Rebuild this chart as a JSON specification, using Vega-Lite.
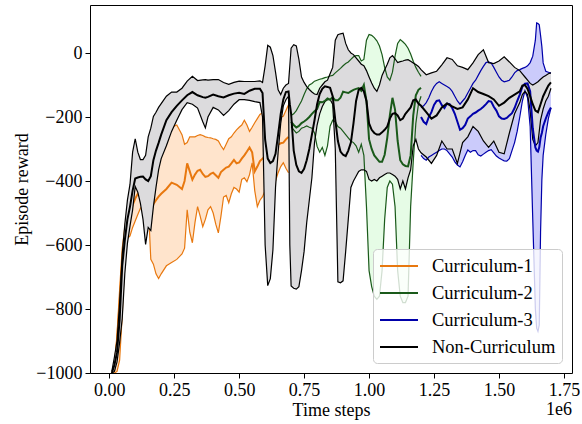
{
"$schema": "https://vega.github.io/schema/vega-lite/v6.json",
"width": 482, "height": 368,
"autosize": {"type": "none"},
"padding": {"left": 90, "top": 5, "right": 10, "bottom": 51},
"title": {"text": "1e6", "orient": "bottom", "anchor": "end", "frame": "group", "offset": -18, "fontSize": 18, "font": "Liberation Serif, Times New Roman, Times, serif", "fontWeight": "normal", "color": "black"},
"config": {
 "font": "Liberation Serif, Times New Roman, Times, serif",
 "view": {"stroke": "black", "strokeWidth": 1},
 "axis": {"labelFontSize": 18, "titleFontSize": 18, "labelColor": "black", "titleColor": "black", "tickColor": "black", "tickSize": 5, "tickWidth": 1, "grid": false, "domain": false, "titleFontWeight": "normal", "labelFont": "Liberation Serif, Times New Roman, Times, serif", "titleFont": "Liberation Serif, Times New Roman, Times, serif", "labelPadding": 3},
 "axisX": {"titlePadding": 2},
 "axisY": {"titlePadding": 4},
 "legend": {"orient": "bottom-right", "offset": 10, "labelFontSize": 18.5, "labelFont": "Liberation Serif, Times New Roman, Times, serif", "labelColor": "black", "symbolType": "M-1.3,0L2.5,0", "symbolStrokeWidth": 2, "symbolSize": 400, "symbolOffset": 3, "fillColor": "rgba(255,255,255,0.8)", "strokeColor": "#cccccc", "cornerRadius": 4, "padding": 6, "rowPadding": 6, "labelOffset": 28}
},
"datasets": {"d": [
{"s":"Curriculum-1","x":0.01,"m":-1000,"lo":-1000,"hi":-1000},
{"s":"Curriculum-1","x":0.02,"m":-990,"lo":-1000,"hi":-975},
{"s":"Curriculum-1","x":0.03,"m":-900,"lo":-995,"hi":-880},
{"s":"Curriculum-1","x":0.04,"m":-780,"lo":-960,"hi":-740},
{"s":"Curriculum-1","x":0.05,"m":-650,"lo":-820,"hi":-610},
{"s":"Curriculum-1","x":0.06,"m":-585,"lo":-640,"hi":-545},
{"s":"Curriculum-1","x":0.07,"m":-540,"lo":-580,"hi":-490},
{"s":"Curriculum-1","x":0.08,"m":-505,"lo":-572,"hi":-462},
{"s":"Curriculum-1","x":0.09,"m":-475,"lo":-545,"hi":-430},
{"s":"Curriculum-1","x":0.10,"m":-455,"lo":-525,"hi":-395},
{"s":"Curriculum-1","x":0.11,"m":-440,"lo":-505,"hi":-370},
{"s":"Curriculum-1","x":0.12,"m":-425,"lo":-485,"hi":-338},
{"s":"Curriculum-1","x":0.13,"m":-415,"lo":-475,"hi":-336},
{"s":"Curriculum-1","x":0.14,"m":-400,"lo":-458,"hi":-338},
{"s":"Curriculum-1","x":0.15,"m":-420,"lo":-470,"hi":-320},
{"s":"Curriculum-1","x":0.16,"m":-470,"lo":-645,"hi":-300},
{"s":"Curriculum-1","x":0.17,"m":-472,"lo":-660,"hi":-290},
{"s":"Curriculum-1","x":0.18,"m":-460,"lo":-690,"hi":-280},
{"s":"Curriculum-1","x":0.19,"m":-449,"lo":-705,"hi":-270},
{"s":"Curriculum-1","x":0.20,"m":-440,"lo":-690,"hi":-262},
{"s":"Curriculum-1","x":0.22,"m":-425,"lo":-665,"hi":-245},
{"s":"Curriculum-1","x":0.24,"m":-405,"lo":-655,"hi":-232},
{"s":"Curriculum-1","x":0.26,"m":-412,"lo":-645,"hi":-225},
{"s":"Curriculum-1","x":0.28,"m":-425,"lo":-628,"hi":-255},
{"s":"Curriculum-1","x":0.29,"m":-400,"lo":-610,"hi":-285},
{"s":"Curriculum-1","x":0.30,"m":-345,"lo":-490,"hi":-280},
{"s":"Curriculum-1","x":0.31,"m":-370,"lo":-560,"hi":-262},
{"s":"Curriculum-1","x":0.32,"m":-396,"lo":-593,"hi":-262},
{"s":"Curriculum-1","x":0.33,"m":-380,"lo":-530,"hi":-262},
{"s":"Curriculum-1","x":0.34,"m":-368,"lo":-480,"hi":-258},
{"s":"Curriculum-1","x":0.35,"m":-365,"lo":-510,"hi":-255},
{"s":"Curriculum-1","x":0.36,"m":-378,"lo":-543,"hi":-258},
{"s":"Curriculum-1","x":0.37,"m":-387,"lo":-520,"hi":-262},
{"s":"Curriculum-1","x":0.38,"m":-385,"lo":-490,"hi":-264},
{"s":"Curriculum-1","x":0.39,"m":-378,"lo":-480,"hi":-265},
{"s":"Curriculum-1","x":0.40,"m":-374,"lo":-500,"hi":-268},
{"s":"Curriculum-1","x":0.41,"m":-382,"lo":-535,"hi":-270},
{"s":"Curriculum-1","x":0.42,"m":-390,"lo":-562,"hi":-275},
{"s":"Curriculum-1","x":0.43,"m":-372,"lo":-510,"hi":-290},
{"s":"Curriculum-1","x":0.44,"m":-365,"lo":-450,"hi":-302},
{"s":"Curriculum-1","x":0.45,"m":-358,"lo":-445,"hi":-285},
{"s":"Curriculum-1","x":0.46,"m":-355,"lo":-468,"hi":-268},
{"s":"Curriculum-1","x":0.47,"m":-345,"lo":-440,"hi":-262},
{"s":"Curriculum-1","x":0.48,"m":-334,"lo":-420,"hi":-250},
{"s":"Curriculum-1","x":0.49,"m":-345,"lo":-425,"hi":-240},
{"s":"Curriculum-1","x":0.50,"m":-342,"lo":-435,"hi":-232},
{"s":"Curriculum-1","x":0.51,"m":-330,"lo":-395,"hi":-225},
{"s":"Curriculum-1","x":0.52,"m":-320,"lo":-390,"hi":-210},
{"s":"Curriculum-1","x":0.53,"m":-308,"lo":-402,"hi":-225},
{"s":"Curriculum-1","x":0.54,"m":-295,"lo":-380,"hi":-245},
{"s":"Curriculum-1","x":0.55,"m":-310,"lo":-343,"hi":-232},
{"s":"Curriculum-1","x":0.56,"m":-370,"lo":-430,"hi":-218},
{"s":"Curriculum-1","x":0.57,"m":-355,"lo":-480,"hi":-205},
{"s":"Curriculum-1","x":0.58,"m":-338,"lo":-460,"hi":-192},
{"s":"Curriculum-1","x":0.59,"m":-330,"lo":-449,"hi":-187},
{"s":"Curriculum-1","x":0.60,"m":-322,"lo":-430,"hi":-215},
{"s":"Curriculum-1","x":0.61,"m":-316,"lo":-440,"hi":-230},
{"s":"Curriculum-1","x":0.62,"m":-305,"lo":-450,"hi":-235},
{"s":"Curriculum-1","x":0.63,"m":-293,"lo":-445,"hi":-225},
{"s":"Curriculum-1","x":0.64,"m":-290,"lo":-400,"hi":-215},
{"s":"Curriculum-1","x":0.65,"m":-286,"lo":-374,"hi":-205},
{"s":"Curriculum-1","x":0.66,"m":-282,"lo":-355,"hi":-200},
{"s":"Curriculum-1","x":0.67,"m":-280,"lo":-343,"hi":-198},
{"s":"Curriculum-1","x":0.68,"m":-270,"lo":-360,"hi":-180},
{"s":"Curriculum-1","x":0.69,"m":-262,"lo":-374,"hi":-162},
{"s":"Curriculum-2","x":0.70,"m":-215,"lo":-230,"hi":-195},
{"s":"Curriculum-2","x":0.71,"m":-225,"lo":-240,"hi":-190},
{"s":"Curriculum-2","x":0.72,"m":-233,"lo":-250,"hi":-180},
{"s":"Curriculum-2","x":0.73,"m":-228,"lo":-245,"hi":-165},
{"s":"Curriculum-2","x":0.74,"m":-219,"lo":-235,"hi":-150},
{"s":"Curriculum-2","x":0.75,"m":-214,"lo":-232,"hi":-130},
{"s":"Curriculum-2","x":0.76,"m":-208,"lo":-228,"hi":-112},
{"s":"Curriculum-2","x":0.77,"m":-200,"lo":-232,"hi":-100},
{"s":"Curriculum-2","x":0.78,"m":-190,"lo":-235,"hi":-95},
{"s":"Curriculum-2","x":0.79,"m":-182,"lo":-250,"hi":-88},
{"s":"Curriculum-2","x":0.80,"m":-175,"lo":-292,"hi":-85},
{"s":"Curriculum-2","x":0.81,"m":-153,"lo":-310,"hi":-82},
{"s":"Curriculum-2","x":0.82,"m":-154,"lo":-295,"hi":-80},
{"s":"Curriculum-2","x":0.83,"m":-150,"lo":-320,"hi":-77},
{"s":"Curriculum-2","x":0.84,"m":-142,"lo":-290,"hi":-75},
{"s":"Curriculum-2","x":0.85,"m":-146,"lo":-229,"hi":-72},
{"s":"Curriculum-2","x":0.86,"m":-138,"lo":-210,"hi":-70},
{"s":"Curriculum-2","x":0.87,"m":-148,"lo":-215,"hi":-62},
{"s":"Curriculum-2","x":0.88,"m":-148,"lo":-230,"hi":-55},
{"s":"Curriculum-2","x":0.89,"m":-140,"lo":-235,"hi":-48},
{"s":"Curriculum-2","x":0.90,"m":-121,"lo":-245,"hi":-40},
{"s":"Curriculum-2","x":0.91,"m":-123,"lo":-255,"hi":-33},
{"s":"Curriculum-2","x":0.92,"m":-125,"lo":-265,"hi":-28},
{"s":"Curriculum-2","x":0.93,"m":-120,"lo":-275,"hi":-20},
{"s":"Curriculum-2","x":0.94,"m":-115,"lo":-280,"hi":-12},
{"s":"Curriculum-2","x":0.95,"m":-112,"lo":-290,"hi":-8},
{"s":"Curriculum-2","x":0.96,"m":-110,"lo":-310,"hi":-8},
{"s":"Curriculum-2","x":0.97,"m":-118,"lo":-285,"hi":-25},
{"s":"Curriculum-2","x":0.98,"m":-100,"lo":-320,"hi":-20},
{"s":"Curriculum-2","x":0.99,"m":-150,"lo":-480,"hi":40},
{"s":"Curriculum-2","x":1.00,"m":-270,"lo":-680,"hi":58},
{"s":"Curriculum-2","x":1.01,"m":-300,"lo":-730,"hi":55},
{"s":"Curriculum-2","x":1.02,"m":-320,"lo":-760,"hi":48},
{"s":"Curriculum-2","x":1.03,"m":-330,"lo":-770,"hi":38},
{"s":"Curriculum-2","x":1.04,"m":-340,"lo":-760,"hi":22},
{"s":"Curriculum-2","x":1.05,"m":-340,"lo":-680,"hi":-5},
{"s":"Curriculum-2","x":1.06,"m":-318,"lo":-520,"hi":-45},
{"s":"Curriculum-2","x":1.07,"m":-265,"lo":-420,"hi":-75},
{"s":"Curriculum-2","x":1.08,"m":-195,"lo":-400,"hi":-85},
{"s":"Curriculum-2","x":1.09,"m":-140,"lo":-410,"hi":-60},
{"s":"Curriculum-2","x":1.10,"m":-177,"lo":-480,"hi":-10},
{"s":"Curriculum-2","x":1.11,"m":-275,"lo":-680,"hi":30},
{"s":"Curriculum-2","x":1.12,"m":-335,"lo":-760,"hi":42},
{"s":"Curriculum-2","x":1.13,"m":-348,"lo":-780,"hi":35},
{"s":"Curriculum-2","x":1.14,"m":-353,"lo":-780,"hi":27},
{"s":"Curriculum-2","x":1.15,"m":-354,"lo":-760,"hi":15},
{"s":"Curriculum-2","x":1.16,"m":-320,"lo":-480,"hi":-3},
{"s":"Curriculum-2","x":1.17,"m":-195,"lo":-340,"hi":-26},
{"s":"Curriculum-2","x":1.18,"m":-132,"lo":-220,"hi":-45},
{"s":"Curriculum-2","x":1.19,"m":-115,"lo":-160,"hi":-60},
{"s":"Curriculum-2","x":1.20,"m":-109,"lo":-135,"hi":-73},
{"s":"Curriculum-3","x":1.20,"m":-200,"lo":-320,"hi":-170},
{"s":"Curriculum-3","x":1.21,"m":-215,"lo":-330,"hi":-165},
{"s":"Curriculum-3","x":1.22,"m":-222,"lo":-335,"hi":-155},
{"s":"Curriculum-3","x":1.23,"m":-200,"lo":-325,"hi":-140},
{"s":"Curriculum-3","x":1.24,"m":-185,"lo":-320,"hi":-120},
{"s":"Curriculum-3","x":1.25,"m":-162,"lo":-315,"hi":-105},
{"s":"Curriculum-3","x":1.26,"m":-150,"lo":-310,"hi":-95},
{"s":"Curriculum-3","x":1.27,"m":-148,"lo":-305,"hi":-90},
{"s":"Curriculum-3","x":1.28,"m":-163,"lo":-300,"hi":-95},
{"s":"Curriculum-3","x":1.29,"m":-172,"lo":-300,"hi":-100},
{"s":"Curriculum-3","x":1.30,"m":-158,"lo":-305,"hi":-105},
{"s":"Curriculum-3","x":1.31,"m":-160,"lo":-315,"hi":-110},
{"s":"Curriculum-3","x":1.32,"m":-172,"lo":-325,"hi":-120},
{"s":"Curriculum-3","x":1.33,"m":-190,"lo":-340,"hi":-135},
{"s":"Curriculum-3","x":1.34,"m":-215,"lo":-350,"hi":-150},
{"s":"Curriculum-3","x":1.35,"m":-240,"lo":-356,"hi":-160},
{"s":"Curriculum-3","x":1.36,"m":-235,"lo":-340,"hi":-150},
{"s":"Curriculum-3","x":1.37,"m":-225,"lo":-320,"hi":-140},
{"s":"Curriculum-3","x":1.38,"m":-205,"lo":-303,"hi":-125},
{"s":"Curriculum-3","x":1.39,"m":-198,"lo":-310,"hi":-110},
{"s":"Curriculum-3","x":1.40,"m":-190,"lo":-305,"hi":-95},
{"s":"Curriculum-3","x":1.41,"m":-186,"lo":-305,"hi":-85},
{"s":"Curriculum-3","x":1.42,"m":-180,"lo":-318,"hi":-70},
{"s":"Curriculum-3","x":1.43,"m":-175,"lo":-322,"hi":-55},
{"s":"Curriculum-3","x":1.44,"m":-168,"lo":-316,"hi":-42},
{"s":"Curriculum-3","x":1.45,"m":-160,"lo":-310,"hi":-30},
{"s":"Curriculum-3","x":1.46,"m":-150,"lo":-305,"hi":-28},
{"s":"Curriculum-3","x":1.47,"m":-152,"lo":-302,"hi":-31},
{"s":"Curriculum-3","x":1.48,"m":-168,"lo":-312,"hi":-45},
{"s":"Curriculum-3","x":1.49,"m":-180,"lo":-322,"hi":-60},
{"s":"Curriculum-3","x":1.50,"m":-198,"lo":-328,"hi":-75},
{"s":"Curriculum-3","x":1.51,"m":-205,"lo":-333,"hi":-85},
{"s":"Curriculum-3","x":1.52,"m":-206,"lo":-337,"hi":-90},
{"s":"Curriculum-3","x":1.53,"m":-203,"lo":-338,"hi":-88},
{"s":"Curriculum-3","x":1.54,"m":-195,"lo":-330,"hi":-85},
{"s":"Curriculum-3","x":1.55,"m":-188,"lo":-305,"hi":-75},
{"s":"Curriculum-3","x":1.56,"m":-172,"lo":-280,"hi":-62},
{"s":"Curriculum-3","x":1.57,"m":-150,"lo":-245,"hi":-55},
{"s":"Curriculum-3","x":1.58,"m":-130,"lo":-200,"hi":-52},
{"s":"Curriculum-3","x":1.59,"m":-105,"lo":-150,"hi":-48},
{"s":"Curriculum-3","x":1.60,"m":-96,"lo":-118,"hi":-45},
{"s":"Curriculum-3","x":1.61,"m":-95,"lo":-140,"hi":-40},
{"s":"Curriculum-3","x":1.62,"m":-120,"lo":-230,"hi":-30},
{"s":"Curriculum-3","x":1.63,"m":-235,"lo":-520,"hi":-10},
{"s":"Curriculum-3","x":1.64,"m":-295,"lo":-800,"hi":40},
{"s":"Curriculum-3","x":1.645,"m":-305,"lo":-860,"hi":94},
{"s":"Curriculum-3","x":1.65,"m":-308,"lo":-870,"hi":92},
{"s":"Curriculum-3","x":1.655,"m":-295,"lo":-850,"hi":88},
{"s":"Curriculum-3","x":1.66,"m":-265,"lo":-560,"hi":55},
{"s":"Curriculum-3","x":1.665,"m":-250,"lo":-396,"hi":20},
{"s":"Curriculum-3","x":1.67,"m":-229,"lo":-320,"hi":-31},
{"s":"Curriculum-3","x":1.68,"m":-205,"lo":-255,"hi":-57},
{"s":"Curriculum-3","x":1.69,"m":-185,"lo":-205,"hi":-60},
{"s":"Curriculum-3","x":1.70,"m":-170,"lo":-172,"hi":-63},
{"s":"Non-Curriculum","x":0.01,"m":-1000,"lo":-1000,"hi":-995},
{"s":"Non-Curriculum","x":0.02,"m":-975,"lo":-995,"hi":-950},
{"s":"Non-Curriculum","x":0.03,"m":-935,"lo":-965,"hi":-900},
{"s":"Non-Curriculum","x":0.04,"m":-835,"lo":-905,"hi":-780},
{"s":"Non-Curriculum","x":0.05,"m":-665,"lo":-830,"hi":-630},
{"s":"Non-Curriculum","x":0.06,"m":-585,"lo":-690,"hi":-535},
{"s":"Non-Curriculum","x":0.07,"m":-520,"lo":-595,"hi":-460},
{"s":"Non-Curriculum","x":0.08,"m":-480,"lo":-540,"hi":-410},
{"s":"Non-Curriculum","x":0.09,"m":-430,"lo":-490,"hi":-310},
{"s":"Non-Curriculum","x":0.10,"m":-392,"lo":-417,"hi":-268},
{"s":"Non-Curriculum","x":0.11,"m":-389,"lo":-435,"hi":-310},
{"s":"Non-Curriculum","x":0.12,"m":-387,"lo":-470,"hi":-333},
{"s":"Non-Curriculum","x":0.13,"m":-386,"lo":-520,"hi":-333},
{"s":"Non-Curriculum","x":0.14,"m":-395,"lo":-598,"hi":-320},
{"s":"Non-Curriculum","x":0.15,"m":-400,"lo":-545,"hi":-262},
{"s":"Non-Curriculum","x":0.16,"m":-385,"lo":-555,"hi":-235},
{"s":"Non-Curriculum","x":0.17,"m":-335,"lo":-480,"hi":-198},
{"s":"Non-Curriculum","x":0.18,"m":-305,"lo":-420,"hi":-185},
{"s":"Non-Curriculum","x":0.19,"m":-281,"lo":-365,"hi":-170},
{"s":"Non-Curriculum","x":0.20,"m":-255,"lo":-330,"hi":-158},
{"s":"Non-Curriculum","x":0.22,"m":-210,"lo":-290,"hi":-135},
{"s":"Non-Curriculum","x":0.24,"m":-185,"lo":-245,"hi":-122},
{"s":"Non-Curriculum","x":0.26,"m":-165,"lo":-210,"hi":-122},
{"s":"Non-Curriculum","x":0.28,"m":-148,"lo":-177,"hi":-110},
{"s":"Non-Curriculum","x":0.30,"m":-132,"lo":-155,"hi":-88},
{"s":"Non-Curriculum","x":0.32,"m":-122,"lo":-160,"hi":-73},
{"s":"Non-Curriculum","x":0.34,"m":-132,"lo":-172,"hi":-86},
{"s":"Non-Curriculum","x":0.36,"m":-138,"lo":-215,"hi":-84},
{"s":"Non-Curriculum","x":0.37,"m":-140,"lo":-234,"hi":-83},
{"s":"Non-Curriculum","x":0.38,"m":-137,"lo":-200,"hi":-85},
{"s":"Non-Curriculum","x":0.40,"m":-130,"lo":-170,"hi":-83},
{"s":"Non-Curriculum","x":0.42,"m":-135,"lo":-178,"hi":-83},
{"s":"Non-Curriculum","x":0.44,"m":-139,"lo":-195,"hi":-92},
{"s":"Non-Curriculum","x":0.46,"m":-132,"lo":-180,"hi":-98},
{"s":"Non-Curriculum","x":0.48,"m":-127,"lo":-160,"hi":-92},
{"s":"Non-Curriculum","x":0.50,"m":-124,"lo":-146,"hi":-88},
{"s":"Non-Curriculum","x":0.52,"m":-128,"lo":-146,"hi":-89},
{"s":"Non-Curriculum","x":0.54,"m":-118,"lo":-148,"hi":-89},
{"s":"Non-Curriculum","x":0.56,"m":-112,"lo":-152,"hi":-89},
{"s":"Non-Curriculum","x":0.58,"m":-112,"lo":-155,"hi":-87},
{"s":"Non-Curriculum","x":0.59,"m":-125,"lo":-200,"hi":-92},
{"s":"Non-Curriculum","x":0.60,"m":-271,"lo":-600,"hi":-40},
{"s":"Non-Curriculum","x":0.61,"m":-330,"lo":-727,"hi":24},
{"s":"Non-Curriculum","x":0.62,"m":-344,"lo":-705,"hi":18},
{"s":"Non-Curriculum","x":0.63,"m":-338,"lo":-615,"hi":-8},
{"s":"Non-Curriculum","x":0.64,"m":-315,"lo":-420,"hi":-60},
{"s":"Non-Curriculum","x":0.65,"m":-255,"lo":-310,"hi":-115},
{"s":"Non-Curriculum","x":0.66,"m":-190,"lo":-220,"hi":-130},
{"s":"Non-Curriculum","x":0.67,"m":-145,"lo":-165,"hi":-110},
{"s":"Non-Curriculum","x":0.68,"m":-122,"lo":-146,"hi":-100},
{"s":"Non-Curriculum","x":0.69,"m":-120,"lo":-135,"hi":-95},
{"s":"Non-Curriculum","x":0.695,"m":-160,"lo":-600,"hi":-40},
{"s":"Non-Curriculum","x":0.70,"m":-190,"lo":-728,"hi":15},
{"s":"Non-Curriculum","x":0.71,"m":-305,"lo":-735,"hi":26},
{"s":"Non-Curriculum","x":0.72,"m":-350,"lo":-738,"hi":22},
{"s":"Non-Curriculum","x":0.73,"m":-370,"lo":-730,"hi":-20},
{"s":"Non-Curriculum","x":0.74,"m":-375,"lo":-680,"hi":-75},
{"s":"Non-Curriculum","x":0.75,"m":-362,"lo":-620,"hi":-92},
{"s":"Non-Curriculum","x":0.76,"m":-335,"lo":-530,"hi":-105},
{"s":"Non-Curriculum","x":0.77,"m":-300,"lo":-460,"hi":-114},
{"s":"Non-Curriculum","x":0.78,"m":-255,"lo":-390,"hi":-122},
{"s":"Non-Curriculum","x":0.79,"m":-210,"lo":-280,"hi":-128},
{"s":"Non-Curriculum","x":0.80,"m":-160,"lo":-225,"hi":-130},
{"s":"Non-Curriculum","x":0.81,"m":-128,"lo":-190,"hi":-110},
{"s":"Non-Curriculum","x":0.82,"m":-112,"lo":-167,"hi":-100},
{"s":"Non-Curriculum","x":0.83,"m":-104,"lo":-152,"hi":-90},
{"s":"Non-Curriculum","x":0.84,"m":-106,"lo":-146,"hi":-85},
{"s":"Non-Curriculum","x":0.85,"m":-109,"lo":-145,"hi":-65},
{"s":"Non-Curriculum","x":0.86,"m":-135,"lo":-160,"hi":-45},
{"s":"Non-Curriculum","x":0.87,"m":-210,"lo":-300,"hi":40},
{"s":"Non-Curriculum","x":0.88,"m":-275,"lo":-715,"hi":57},
{"s":"Non-Curriculum","x":0.89,"m":-308,"lo":-718,"hi":60},
{"s":"Non-Curriculum","x":0.90,"m":-318,"lo":-712,"hi":62},
{"s":"Non-Curriculum","x":0.91,"m":-322,"lo":-620,"hi":30},
{"s":"Non-Curriculum","x":0.92,"m":-305,"lo":-520,"hi":10},
{"s":"Non-Curriculum","x":0.93,"m":-280,"lo":-420,"hi":0},
{"s":"Non-Curriculum","x":0.94,"m":-220,"lo":-400,"hi":-5},
{"s":"Non-Curriculum","x":0.95,"m":-150,"lo":-385,"hi":-15},
{"s":"Non-Curriculum","x":0.96,"m":-115,"lo":-370,"hi":-25},
{"s":"Non-Curriculum","x":0.97,"m":-109,"lo":-365,"hi":-35},
{"s":"Non-Curriculum","x":0.98,"m":-120,"lo":-365,"hi":-40},
{"s":"Non-Curriculum","x":0.99,"m":-150,"lo":-370,"hi":-55},
{"s":"Non-Curriculum","x":1.00,"m":-220,"lo":-395,"hi":-75},
{"s":"Non-Curriculum","x":1.01,"m":-240,"lo":-400,"hi":-94},
{"s":"Non-Curriculum","x":1.02,"m":-250,"lo":-395,"hi":-110},
{"s":"Non-Curriculum","x":1.03,"m":-255,"lo":-400,"hi":-120},
{"s":"Non-Curriculum","x":1.04,"m":-255,"lo":-390,"hi":-100},
{"s":"Non-Curriculum","x":1.05,"m":-248,"lo":-385,"hi":-70},
{"s":"Non-Curriculum","x":1.06,"m":-240,"lo":-380,"hi":-52},
{"s":"Non-Curriculum","x":1.07,"m":-230,"lo":-375,"hi":-35},
{"s":"Non-Curriculum","x":1.08,"m":-205,"lo":-375,"hi":-15},
{"s":"Non-Curriculum","x":1.09,"m":-190,"lo":-380,"hi":-8},
{"s":"Non-Curriculum","x":1.10,"m":-188,"lo":-385,"hi":-18},
{"s":"Non-Curriculum","x":1.11,"m":-195,"lo":-395,"hi":-30},
{"s":"Non-Curriculum","x":1.12,"m":-210,"lo":-425,"hi":-27},
{"s":"Non-Curriculum","x":1.13,"m":-205,"lo":-400,"hi":-25},
{"s":"Non-Curriculum","x":1.14,"m":-190,"lo":-425,"hi":-22},
{"s":"Non-Curriculum","x":1.15,"m":-180,"lo":-390,"hi":-21},
{"s":"Non-Curriculum","x":1.16,"m":-170,"lo":-365,"hi":-26},
{"s":"Non-Curriculum","x":1.17,"m":-148,"lo":-290,"hi":-31},
{"s":"Non-Curriculum","x":1.18,"m":-145,"lo":-270,"hi":-36},
{"s":"Non-Curriculum","x":1.19,"m":-158,"lo":-300,"hi":-42},
{"s":"Non-Curriculum","x":1.20,"m":-165,"lo":-312,"hi":-52},
{"s":"Non-Curriculum","x":1.22,"m":-185,"lo":-325,"hi":-68},
{"s":"Non-Curriculum","x":1.24,"m":-205,"lo":-345,"hi":-62},
{"s":"Non-Curriculum","x":1.26,"m":-195,"lo":-320,"hi":-57},
{"s":"Non-Curriculum","x":1.28,"m":-170,"lo":-275,"hi":-37},
{"s":"Non-Curriculum","x":1.30,"m":-158,"lo":-300,"hi":-15},
{"s":"Non-Curriculum","x":1.32,"m":-167,"lo":-300,"hi":-20},
{"s":"Non-Curriculum","x":1.34,"m":-175,"lo":-345,"hi":-40},
{"s":"Non-Curriculum","x":1.36,"m":-170,"lo":-280,"hi":-45},
{"s":"Non-Curriculum","x":1.38,"m":-145,"lo":-262,"hi":-52},
{"s":"Non-Curriculum","x":1.40,"m":-110,"lo":-230,"hi":-31},
{"s":"Non-Curriculum","x":1.42,"m":-122,"lo":-245,"hi":-5},
{"s":"Non-Curriculum","x":1.44,"m":-128,"lo":-275,"hi":10},
{"s":"Non-Curriculum","x":1.46,"m":-135,"lo":-295,"hi":-30},
{"s":"Non-Curriculum","x":1.48,"m":-145,"lo":-275,"hi":-33},
{"s":"Non-Curriculum","x":1.50,"m":-165,"lo":-310,"hi":-25},
{"s":"Non-Curriculum","x":1.52,"m":-155,"lo":-315,"hi":-12},
{"s":"Non-Curriculum","x":1.54,"m":-140,"lo":-250,"hi":-28},
{"s":"Non-Curriculum","x":1.56,"m":-130,"lo":-190,"hi":-45},
{"s":"Non-Curriculum","x":1.58,"m":-120,"lo":-155,"hi":-55},
{"s":"Non-Curriculum","x":1.59,"m":-102,"lo":-130,"hi":-65},
{"s":"Non-Curriculum","x":1.60,"m":-100,"lo":-120,"hi":-75},
{"s":"Non-Curriculum","x":1.61,"m":-112,"lo":-130,"hi":-85},
{"s":"Non-Curriculum","x":1.62,"m":-135,"lo":-180,"hi":-95},
{"s":"Non-Curriculum","x":1.63,"m":-160,"lo":-270,"hi":-100},
{"s":"Non-Curriculum","x":1.64,"m":-180,"lo":-290,"hi":-95},
{"s":"Non-Curriculum","x":1.65,"m":-185,"lo":-280,"hi":-90},
{"s":"Non-Curriculum","x":1.66,"m":-160,"lo":-210,"hi":-82},
{"s":"Non-Curriculum","x":1.67,"m":-135,"lo":-175,"hi":-75},
{"s":"Non-Curriculum","x":1.68,"m":-118,"lo":-150,"hi":-70},
{"s":"Non-Curriculum","x":1.69,"m":-102,"lo":-135,"hi":-65},
{"s":"Non-Curriculum","x":1.70,"m":-92,"lo":-110,"hi":-62}
]},
"data": {"name": "d"},
"encoding": {
 "x": {"field": "x", "type": "quantitative", "title": "Time steps", "scale": {"domain": [-0.074, 1.781], "nice": false, "zero": false}, "axis": {"values": [0, 0.25, 0.5, 0.75, 1, 1.25, 1.5, 1.75], "format": ".2f"}}
},
"layer": [
 {"transform": [{"filter": "datum.s === 'Curriculum-1'"}], "mark": {"type": "area", "color": "#ffe4cc", "clip": true},
  "encoding": {"y": {"field": "lo", "type": "quantitative", "title": "Episode reward", "scale": {"domain": [-1000, 150], "nice": false, "zero": false}, "axis": {"values": [-1000, -800, -600, -400, -200, 0], "format": "d"}}, "y2": {"field": "hi"}}},
 {"transform": [{"filter": "datum.s === 'Curriculum-1'"}], "mark": {"type": "line", "color": "#e8780f", "strokeWidth": 1.2, "clip": true},
  "encoding": {"y": {"field": "lo", "type": "quantitative", "title": "Episode reward", "scale": {"domain": [-1000, 150], "nice": false, "zero": false}}}},
 {"transform": [{"filter": "datum.s === 'Curriculum-1'"}], "mark": {"type": "line", "color": "#e8780f", "strokeWidth": 1.2, "clip": true},
  "encoding": {"y": {"field": "hi", "type": "quantitative", "title": "Episode reward", "scale": {"domain": [-1000, 150], "nice": false, "zero": false}}}},
 {"transform": [{"filter": "datum.s === 'Curriculum-1'"}], "mark": {"type": "line", "strokeWidth": 2, "clip": true},
  "encoding": {"y": {"field": "m", "type": "quantitative", "title": "Episode reward", "scale": {"domain": [-1000, 150], "nice": false, "zero": false}},
   "color": {"field": "s", "type": "nominal", "title": null, "scale": {"domain": ["Curriculum-1", "Curriculum-2", "Curriculum-3", "Non-Curriculum"], "range": ["#e8780f", "#1a5a1a", "#0000aa", "#000000"]}}}},
 {"transform": [{"filter": "datum.s === 'Curriculum-2'"}], "mark": {"type": "area", "color": "#e6fce6", "clip": true},
  "encoding": {"y": {"field": "lo", "type": "quantitative", "title": "Episode reward", "scale": {"domain": [-1000, 150], "nice": false, "zero": false}}, "y2": {"field": "hi"}}},
 {"transform": [{"filter": "datum.s === 'Curriculum-3'"}], "mark": {"type": "area", "color": "#cbcbfb", "clip": true},
  "encoding": {"y": {"field": "lo", "type": "quantitative", "title": "Episode reward", "scale": {"domain": [-1000, 150], "nice": false, "zero": false}}, "y2": {"field": "hi"}}},
 {"transform": [{"filter": "datum.s === 'Non-Curriculum'"}], "mark": {"type": "area", "color": "#dcdbdd", "clip": true},
  "encoding": {"y": {"field": "lo", "type": "quantitative", "title": "Episode reward", "scale": {"domain": [-1000, 150], "nice": false, "zero": false}}, "y2": {"field": "hi"}}},
 {"transform": [{"filter": "datum.s !== 'Curriculum-1'"}], "mark": {"type": "line", "strokeWidth": 1.2, "clip": true},
  "encoding": {"y": {"field": "lo", "type": "quantitative", "title": "Episode reward", "scale": {"domain": [-1000, 150], "nice": false, "zero": false}},
   "color": {"field": "s", "type": "nominal", "title": null}}},
 {"transform": [{"filter": "datum.s !== 'Curriculum-1'"}], "mark": {"type": "line", "strokeWidth": 1.2, "clip": true},
  "encoding": {"y": {"field": "hi", "type": "quantitative", "title": "Episode reward", "scale": {"domain": [-1000, 150], "nice": false, "zero": false}},
   "color": {"field": "s", "type": "nominal", "title": null}}},
 {"transform": [{"filter": "datum.s !== 'Curriculum-1'"}], "mark": {"type": "line", "strokeWidth": 2, "clip": true},
  "encoding": {"y": {"field": "m", "type": "quantitative", "title": "Episode reward", "scale": {"domain": [-1000, 150], "nice": false, "zero": false}},
   "color": {"field": "s", "type": "nominal", "title": null}}}
]
}
